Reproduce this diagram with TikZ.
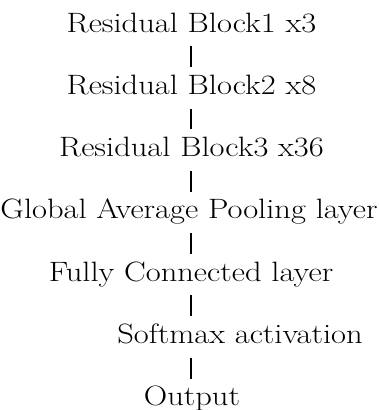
\documentclass[tikz,border=0pt]{standalone}
\usepackage{graphicx}
\newcommand{\widetext}[1]{\scalebox{1.16}[1]{#1}}
\begin{document}
\begin{tikzpicture}[x=1pt,y=1pt,
  lbl/.style={anchor=base,inner sep=0pt,text height=19pt,text depth=0pt,font=\fontsize{28}{33}\selectfont},
  pipe/.style={line width=1.3pt,shorten <=14pt,shorten >=8pt}]
\useasboundingbox (0,0) rectangle (378,-410);
\node[lbl] (b1) at (191.5,-32) {\widetext{Residual Block1 x3}};
\node[lbl] (b2) at (191.5,-94.3) {\widetext{Residual Block2 x8}};
\node[lbl] (b3) at (191.5,-156.6) {\widetext{Residual Block3 x36}};
\node[lbl] (gap) at (189,-218.9) {\widetext{Global Average Pooling layer}};
\node[lbl] (fc) at (191,-281.2) {\widetext{Fully Connected layer}};
\node[lbl] (sm) at (240,-343.5) {\widetext{Softmax activation}};
\node[lbl] (out) at (192,-405.8) {\widetext{Output}};
\draw[pipe] (fc.south |- b1.south) -- (fc.south |- b2.north);
\draw[pipe] (fc.south |- b2.south) -- (fc.south |- b3.north);
\draw[pipe] (fc.south |- b3.south) -- (fc.south |- gap.north);
\draw[pipe] (fc.south |- gap.south) -- (fc.north);
\draw[pipe] (fc.south) -- (fc.south |- sm.north);
\draw[pipe] (fc.south |- sm.south) -- (fc.south |- out.north);
\end{tikzpicture}
\end{document}
